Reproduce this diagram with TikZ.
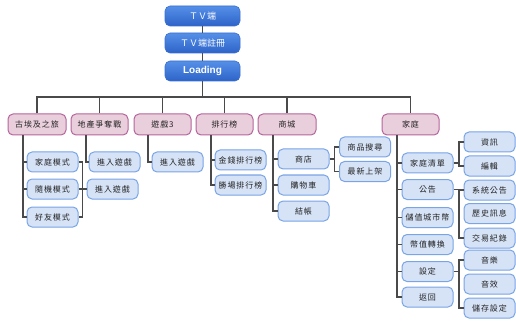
\documentclass[tikz,border=0pt]{standalone}
\usepackage{fontspec}
\newfontfamily\cjk[LetterSpace=12]{Noto Sans CJK TC}
\newfontfamily\cjkw{Noto Sans CJK TC}
\newfontfamily\lsans{Liberation Sans}
\definecolor{pinkfill}{HTML}{E9CEDB}
\definecolor{pinkdraw}{HTML}{B5649C}
\definecolor{bluefill}{HTML}{D6E3F7}
\definecolor{bluedraw}{HTML}{79A4E6}
\definecolor{topA}{HTML}{5590E8}
\definecolor{topB}{HTML}{2D63C8}
\definecolor{topdraw}{HTML}{3A6FD0}
\definecolor{linec}{HTML}{4A4A4A}
\definecolor{txt}{HTML}{222222}
\begin{document}
\begin{tikzpicture}[x=1pt,y=-1pt,
  topbox/.style={draw=topdraw,line width=0.6pt,rounded corners=5pt,top color=topA,bottom color=topB,
    minimum width=75pt,minimum height=20pt,inner sep=0pt,text=white,font=\cjkw\fontsize{9}{10}\selectfont},
  catbox/.style={draw=pinkdraw,line width=1pt,rounded corners=5pt,fill=pinkfill,
    minimum width=57pt,minimum height=21pt,inner sep=0pt,text=txt,font=\cjk\fontsize{8}{9}\selectfont},
  subbox/.style={draw=bluedraw,line width=1pt,rounded corners=5pt,fill=bluefill,
    minimum width=51pt,minimum height=20pt,inner sep=0pt,text=txt,font=\cjk\fontsize{8}{9}\selectfont},
  conn/.style={draw=linec,line width=1.1pt}]
\useasboundingbox (0,0) rectangle (516,323);
% top
\node[topbox] (tv) at (202.5,16) {ＴＶ端};
\node[topbox] (reg) at (202.5,43) {ＴＶ端註冊};
\node[topbox,font=\lsans\bfseries\fontsize{10}{11}\selectfont] (load) at (202.5,71) {Loading};
% categories
\node[catbox,minimum width=58pt] (c1) at (37,124.5) {古埃及之旅};
\node[catbox] (c2) at (99.5,124.5) {地產爭奪戰};
\node[catbox] (c3) at (162.5,124.5) {遊戲3};
\node[catbox] (c4) at (224.5,124.5) {排行榜};
\node[catbox,minimum width=58pt] (c5) at (287,124.5) {商城};
\node[catbox] (c6) at (410.5,124.5) {家庭};
% sub
\node[subbox] (m1) at (52.5,162) {家庭模式};
\node[subbox] (m2) at (52.5,189) {隨機模式};
\node[subbox] (m3) at (52.5,217) {好友模式};
\node[subbox] (e1) at (114.5,162) {進入遊戲};
\node[subbox] (e2) at (112.5,189) {進入遊戲};
\node[subbox] (e3) at (177.5,162) {進入遊戲};
\node[subbox] (r1) at (240.5,160) {金錢排行榜};
\node[subbox] (r2) at (240.5,185) {勝場排行榜};
\node[subbox] (s1) at (303.5,159) {商店};
\node[subbox] (s2) at (303.5,185) {購物車};
\node[subbox] (s3) at (303.5,211) {結帳};
\node[subbox] (p1) at (365,147) {商品搜尋};
\node[subbox] (p2) at (365,171.5) {最新上架};
\node[subbox] (f1) at (427.5,163) {家庭清單};
\node[subbox] (f2) at (427.5,189.5) {公告};
\node[subbox] (f3) at (427.5,217.5) {儲值城市幣};
\node[subbox] (f4) at (427.5,244.5) {幣值轉換};
\node[subbox] (f5) at (427.5,271.5) {設定};
\node[subbox] (f6) at (427.5,297) {返回};
\node[subbox] (g1) at (489.5,142) {資訊};
\node[subbox] (g2) at (489.5,166) {編輯};
\node[subbox] (g3) at (489.5,190) {系統公告};
\node[subbox] (g4) at (489.5,213.5) {歷史訊息};
\node[subbox] (g5) at (489.5,238) {交易紀錄};
\node[subbox] (g6) at (489.5,260) {音樂};
\node[subbox] (g7) at (489.5,284) {音效};
\node[subbox] (g8) at (489.5,308) {儲存設定};
% coordinates
\coordinate (bus) at (0,97);
\coordinate (t1) at (23,0);
\coordinate (b1) at (82.5,0);
\coordinate (t2) at (86,0);
\coordinate (t3) at (148,0);
\coordinate (t4) at (211,0);
\coordinate (t5) at (273,0);
\coordinate (b5) at (334.5,0);
\coordinate (t6) at (397,0);
\coordinate (b6) at (459,0);
% connectors
\draw[conn] (tv.south) -- (reg.north);
\draw[conn] (reg.south) -- (load.north);
\draw[conn] (load.south) -- (load.south |- bus);
\draw[conn] (c1.north) -- (c1.north |- bus) -| (c6.north);
\foreach \c in {c2,c3,c4,c5} \draw[conn] (\c.north) -- (\c.north |- bus);
% 古埃及之旅
\draw[conn] (t1 |- c1.south) |- (m3.west);
\foreach \m in {m1,m2} \draw[conn] (\m.west) -- (\m.west -| t1);
\draw[conn] (m1.east) -| (b1 |- m2.east) |- (m3.east);
\draw[conn] (m2.east) -- (e2.west);
% 地產爭奪戰
\draw[conn] (t2 |- c2.south) |- (e1.west);
% 遊戲3
\draw[conn] (t3 |- c3.south) |- (e3.west);
% 排行榜
\draw[conn] (t4 |- c4.south) |- (r2.west);
\draw[conn] (r1.west) -- (r1.west -| t4);
% 商城
\draw[conn] (t5 |- c5.south) |- (s3.west);
\foreach \m in {s1,s2} \draw[conn] (\m.west) -- (\m.west -| t5);
\draw[conn] (s1.east) -- (s1.east -| b5);
\draw[conn] (p1.west) -| (b5 |- p2.west) -- (p2.west);
% 家庭
\draw[conn] (t6 |- c6.south) |- (f6.west);
\foreach \m in {f1,f2,f3,f4,f5} \draw[conn] (\m.west) -- (\m.west -| t6);
\draw[conn] (f1.east) -- (f1.east -| b6);
\draw[conn] (g1.west) -| (b6 |- g2.west) -- (g2.west);
\draw[conn] (f2.east) -- (f2.east -| b6);
\draw[conn] (g3.west) -| (b6 |- g5.west) -- (g5.west);
\draw[conn] (f5.east) -- (f5.east -| b6);
\draw[conn] (g6.west) -| (b6 |- g8.west) -- (g8.west);
\end{tikzpicture}
\end{document}
